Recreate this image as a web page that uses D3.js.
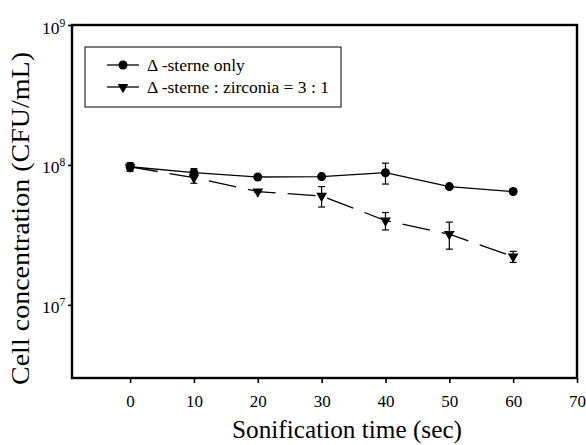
<!DOCTYPE html>
<html>
<head>
<meta charset="utf-8">
<script src="https://cdn.jsdelivr.net/npm/d3@7"></script>
<style>
  body { margin: 0; background: #fff; }
</style>
</head>
<body>
<script>
// Sonification time vs cell concentration (log scale)

const times = [0, 10, 20, 30, 40, 50, 60];
const sterneOnly = [0.97e8, 0.88e8, 0.82e8, 0.825e8, 0.88e8, 0.70e8, 0.645e8];
const sterneOnlyErr = [0.07e8, 0.06e8, 0.01e8, 0.01e8, 0.15e8, 0.02e8, 0.015e8];
const sterneZirc = [0.97e8, 0.81e8, 0.645e8, 0.60e8, 0.40e8, 0.32e8, 0.221e8];
const sterneZircErr = [0.05e8, 0.07e8, 0.01e8, 0.10e8, 0.057e8, 0.07e8, 0.02e8];
const xTicks = [0, 10, 20, 30, 40, 50, 60, 70];
const yTicks = [1e7, 1e8, 1e9];
const yExp = { 1e7: "7", 1e8: "8", 1e9: "9" };
const legendLabels = ["\u0394 -sterne only", "\u0394 -sterne : zirconia = 3 : 1"];

const width = 586, height = 445;
const margin = { top: 25, right: 9, bottom: 67, left: 72 };
const serif = "'Liberation Serif', 'Times New Roman', serif";

const svg = d3.select("body").append("svg")
  .attr("width", width)
  .attr("height", height)
  .attr("font-family", serif);

const x = d3.scaleLinear().domain([-9.1, 70]).range([margin.left, width - margin.right]);
const y = d3.scaleLog().domain([3e6, 1e9]).range([height - margin.bottom, margin.top]);

// Frame
svg.append("rect")
  .attr("x", margin.left).attr("y", margin.top)
  .attr("width", width - margin.left - margin.right)
  .attr("height", height - margin.top - margin.bottom)
  .attr("fill", "none").attr("stroke", "#000").attr("stroke-width", 2.4);

// X axis
const xAxis = svg.append("g")
  .attr("transform", `translate(0,${height - margin.bottom})`)
  .call(d3.axisBottom(x).tickValues(xTicks).tickSize(5).tickFormat(d3.format("d")));
xAxis.select(".domain").remove();
xAxis.selectAll("line").attr("stroke-width", 1.6);
xAxis.selectAll("text")
  .attr("y", 29).attr("dy", null)
  .attr("font-size", 17).attr("font-family", serif).attr("fill", "#000");

// Y axis
const yAxis = svg.append("g")
  .attr("transform", `translate(${margin.left},0)`)
  .call(d3.axisLeft(y).tickValues(yTicks).tickSize(4).tickFormat(""));
yAxis.select(".domain").remove();
yAxis.selectAll("line").attr("stroke-width", 1.6);
yAxis.selectAll(".tick").append("text")
  .attr("x", -30).attr("y", 8)
  .attr("text-anchor", "start")
  .attr("font-size", 17.5)
  .attr("font-family", serif)
  .attr("fill", "#000")
  .each(function (d) {
    const t = d3.select(this);
    t.append("tspan").text("10");
    t.append("tspan").attr("dy", -7).attr("font-size", 11.5).text(yExp[d]);
  });

// Axis titles
svg.append("text")
  .attr("x", 232).attr("y", 438)
  .attr("font-size", 25)
  .attr("textLength", 230)
  .attr("lengthAdjust", "spacingAndGlyphs")
  .text("Sonification time (sec)");

svg.append("text")
  .attr("transform", "translate(29,385) rotate(-90)")
  .attr("font-size", 26)
  .attr("textLength", 333)
  .attr("lengthAdjust", "spacingAndGlyphs")
  .text("Cell concentration (CFU/mL)");

// Series
const series = [
  { vals: sterneOnly, err: sterneOnlyErr, dash: null, sym: d3.symbolCircle, size: 64, rot: 0 },
  { vals: sterneZirc, err: sterneZircErr, dash: "28,12", sym: d3.symbolTriangle, size: 50, rot: 180 }
];

const line = d3.line().x(d => x(d[0])).y(d => y(d[1]));

series.forEach(s => {
  const pts = times.map((t, i) => [t, s.vals[i], s.err[i]]);
  svg.append("path")
    .datum(pts)
    .attr("d", line)
    .attr("fill", "none")
    .attr("stroke", "#000")
    .attr("stroke-width", 1.3)
    .attr("stroke-dasharray", s.dash);

  const eb = svg.append("g");
  pts.forEach(p => {
    const y1 = y(p[1] + p[2]), y2 = y(p[1] - p[2]), cx = x(p[0]);
    eb.append("line").attr("x1", cx).attr("x2", cx).attr("y1", y1).attr("y2", y2).attr("stroke", "#000").attr("stroke-width", 1.2);
    eb.append("line").attr("x1", cx - 3.5).attr("x2", cx + 3.5).attr("y1", y1).attr("y2", y1).attr("stroke", "#000").attr("stroke-width", 1.2);
    eb.append("line").attr("x1", cx - 3.5).attr("x2", cx + 3.5).attr("y1", y2).attr("y2", y2).attr("stroke", "#000").attr("stroke-width", 1.2);
  });

  svg.append("g").selectAll("path")
    .data(pts)
    .join("path")
    .attr("d", d3.symbol().type(s.sym).size(s.size))
    .attr("transform", d => `translate(${x(d[0])},${y(d[1])}) rotate(${s.rot})`)
    .attr("fill", "#000");
});

// Legend
const lg = svg.append("g").attr("transform", "translate(85,47)");
lg.append("rect")
  .attr("width", 256).attr("height", 60)
  .attr("fill", "#fff").attr("stroke", "#000").attr("stroke-width", 1);

series.forEach((s, i) => {
  const ly = 18 + i * 22;
  lg.append("line")
    .attr("x1", 22).attr("x2", 54).attr("y1", ly).attr("y2", ly)
    .attr("stroke", "#000").attr("stroke-width", 1.3);
  lg.append("path")
    .attr("d", d3.symbol().type(s.sym).size(s.size)())
    .attr("transform", `translate(38,${ly}) rotate(${s.rot})`)
    .attr("fill", "#000");
  lg.append("text")
    .attr("x", 62).attr("y", ly + 6)
    .attr("font-size", 17.5)
    .text(legendLabels[i]);
});
</script>
</body>
</html>
